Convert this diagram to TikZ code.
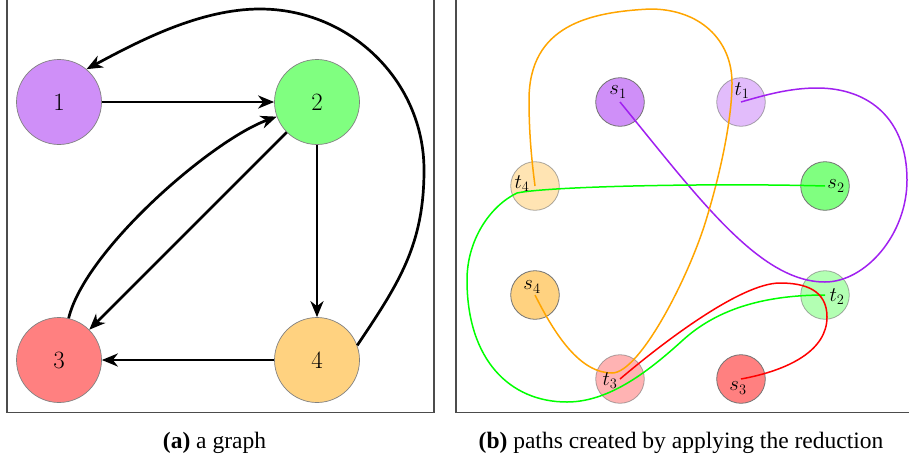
\documentclass[tikz,border=0pt]{standalone}
\usepackage{fontspec}
\setmainfont{Liberation Serif}
\usetikzlibrary{arrows.meta}

\definecolor{cpurple}{RGB}{160,32,240}
\definecolor{cgreen}{RGB}{0,255,0}
\definecolor{cred}{RGB}{255,0,0}
\definecolor{corange}{RGB}{255,165,0}

\tikzset{
  panel/.style={draw=black!70, line width=1.2pt},
  bignode/.style={circle, minimum size=85pt, inner sep=0pt, draw=black!50, line width=0.7pt,
                  font=\fontsize{34}{40}\selectfont},
  edge/.style={line width=2.7pt, -{Stealth[length=16pt,width=13pt,inset=5pt]}},
  snode/.style={circle, minimum size=48.6pt, inner sep=0pt, draw=black!55, line width=0.8pt},
  tnode/.style={snode, opacity=0.6},
  lab/.style={inner sep=0pt, font=\fontsize{22}{26}\selectfont},
  route/.style={line width=1.5pt},
  caption/.style={anchor=base, font=\rmfamily\fontsize{23.5}{28}\selectfont}
}

\begin{document}
\begin{tikzpicture}[x=1pt,y=-1pt]
\useasboundingbox (0,0) rectangle (909,461);

% ---------- panel frames ----------
\draw[panel] (7,-10) -- (7,412.5) -- (434,412.5) -- (434,-10);
\draw[panel] (456,-10) -- (456,412.5) -- (920,412.5);

% ---------- (a) the graph ----------
\node[bignode, fill=cpurple!50] (n1) at (59,102) {$1$};
\node[bignode, fill=cgreen!50]  (n2) at (317,102) {$2$};
\node[bignode, fill=cred!50]    (n3) at (59,360) {$3$};
\node[bignode, fill=corange!50] (n4) at (317,360) {$4$};

\draw[edge] (n1) -- (n2);
\draw[edge] (n2) -- (n4);
\draw[edge] (n4) -- (n3);
\draw[edge] (n2) -- (n3);
\draw[edge] (n3.77) .. controls (85,250) and (212,140) .. (n2.200);
\draw[edge] (n4.20) .. controls (399,283) and (424,245) .. (424,170)
            .. controls (424,81) and (350,9) .. (260,9)
            .. controls (200,9) and (139,41) .. (n1.50);

% ---------- (b) terminals ----------
\node[snode, fill=cpurple!50] (s1) at (620,102) {};
\node[tnode, fill=cpurple!50] (t1) at (741,102) {};
\node[tnode, fill=corange!50] (t4) at (535,186) {};
\node[snode, fill=cgreen!50]  (s2) at (825,186) {};
\node[snode, fill=corange!50] (s4) at (535,295) {};
\node[tnode, fill=cgreen!50]  (t2) at (825,295) {};
\node[tnode, fill=cred!50]    (t3) at (620,379) {};
\node[snode, fill=cred!50]    (s3) at (741,379) {};

% ---------- (b) routed paths ----------
\draw[route, cpurple] (s1.center) .. controls (700,200) and (760,282) .. (825,282)
      .. controls (865,282) and (907,235) .. (907,180)
      .. controls (907,120) and (870,88) .. (817,88)
      .. controls (790,88) and (765,95) .. (t1.center);

\draw[route, corange] (s4.center) .. controls (555,335) and (580,373) .. (612,373)
      .. controls (640,373) and (690,275) .. (707,217)
      .. controls (720,174) and (732,120) .. (732,83)
      .. controls (732,40) and (700,9) .. (650,9)
      .. controls (590,12) and (529,25) .. (529,100)
      .. controls (529,140) and (533,170) .. (t4.center);

\draw[route, cgreen] (s2.center) .. controls (720,183) and (550,186) .. (517,193)
      .. controls (490,206) and (467,240) .. (467,280)
      .. controls (467,360) and (510,402) .. (567,402)
      .. controls (610,402) and (650,370) .. (683,340)
      .. controls (715,311) and (760,295) .. (t2.center);

\draw[route, cred] (s3.center) .. controls (790,370) and (827,350) .. (827,317)
      .. controls (827,290) and (805,283) .. (780,283)
      .. controls (740,283) and (660,345) .. (t3.center);

% ---------- (b) labels ----------
\node[lab] (ls1) at (618,92)  {$s_1$};
\node[lab] (lt1) at (742,91)  {$t_1$};
\node[lab] (lt4) at (522,184) {$t_4$};
\node[lab] (ls2) at (836,186) {$s_2$};
\node[lab] (ls4) at (532,287) {$s_4$};
\node[lab] (lt2) at (837,297) {$t_2$};
\node[lab] (lt3) at (610,381) {$t_3$};
\node[lab] (ls3) at (738,388) {$s_3$};

% ---------- captions ----------
\node[caption] (capa) at (214.5,448) {\textbf{(a)} a graph};
\node[caption] (capb) at (681,448) {\textbf{(b)} paths created by applying the reduction};
\end{tikzpicture}
\end{document}
